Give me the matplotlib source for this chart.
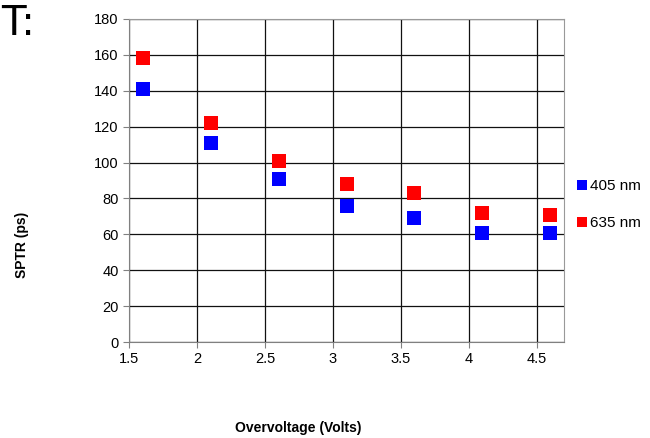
import matplotlib
matplotlib.use("Agg")
import matplotlib.pyplot as plt

overvoltage = [1.6, 2.1, 2.6, 3.1, 3.6, 4.1, 4.6]
sptr_405 = [141, 111, 91, 76, 69, 61, 61]
sptr_635 = [158, 122, 101, 88, 83, 72, 71]
xticks = [1.5, 2, 2.5, 3, 3.5, 4, 4.5]
xticklabels = ["1.5", "2", "2.5", "3", "3.5", "4", "4.5"]
yticks = list(range(0, 181, 20))

plt.rcParams['font.family'] = ['Liberation Sans', 'DejaVu Sans']

W, H = 650, 438
fig = plt.figure(figsize=(W/100, H/100), dpi=100)
ax = fig.add_axes([129/W, 1-342/H, (564-129)/W, (342-19)/H])

ax.plot(overvoltage, sptr_405, 's', color='#0000ff', markersize=10, label='405 nm', zorder=3, markeredgewidth=0)
ax.plot(overvoltage, sptr_635, 's', color='#ff0000', markersize=10, label='635 nm', zorder=3, markeredgewidth=0)

ax.set_xlim(1.5, 4.7)
ax.set_ylim(0, 180)
ax.set_xticks(xticks)
ax.set_xticklabels(xticklabels)
ax.set_yticks(yticks)
ax.grid(True, color='#111111', linewidth=0.9)
ax.set_axisbelow(True)
for s in ['top', 'right']:
    ax.spines[s].set_visible(True)
    ax.spines[s].set_color('#999999')
for s in ['left', 'bottom']:
    ax.spines[s].set_color('#808080')
ax.tick_params(axis='both', labelsize=10.5, length=4, color='#808080', direction='out')

ax.legend(loc='center left', bbox_to_anchor=(1.0, 0.425), frameon=False,
          fontsize=11, handlelength=0.6, handletextpad=0.2, labelspacing=1.5,
          borderaxespad=0.5, markerscale=0.7)

fig.text(22/W, 1-245/H, 'SPTR (ps)', rotation=90, ha='center', va='center',
         fontsize=10, fontweight='bold')
fig.text(298/W, 1-428/H, 'Overvoltage (Volts)', ha='center', va='center',
         fontsize=10, fontweight='bold')
fig.text(0.001, 1-4/H, 'T:', ha='left', va='top', fontsize=29,
         family=['DejaVu Sans'])

fig.savefig('out.png', dpi=100)
